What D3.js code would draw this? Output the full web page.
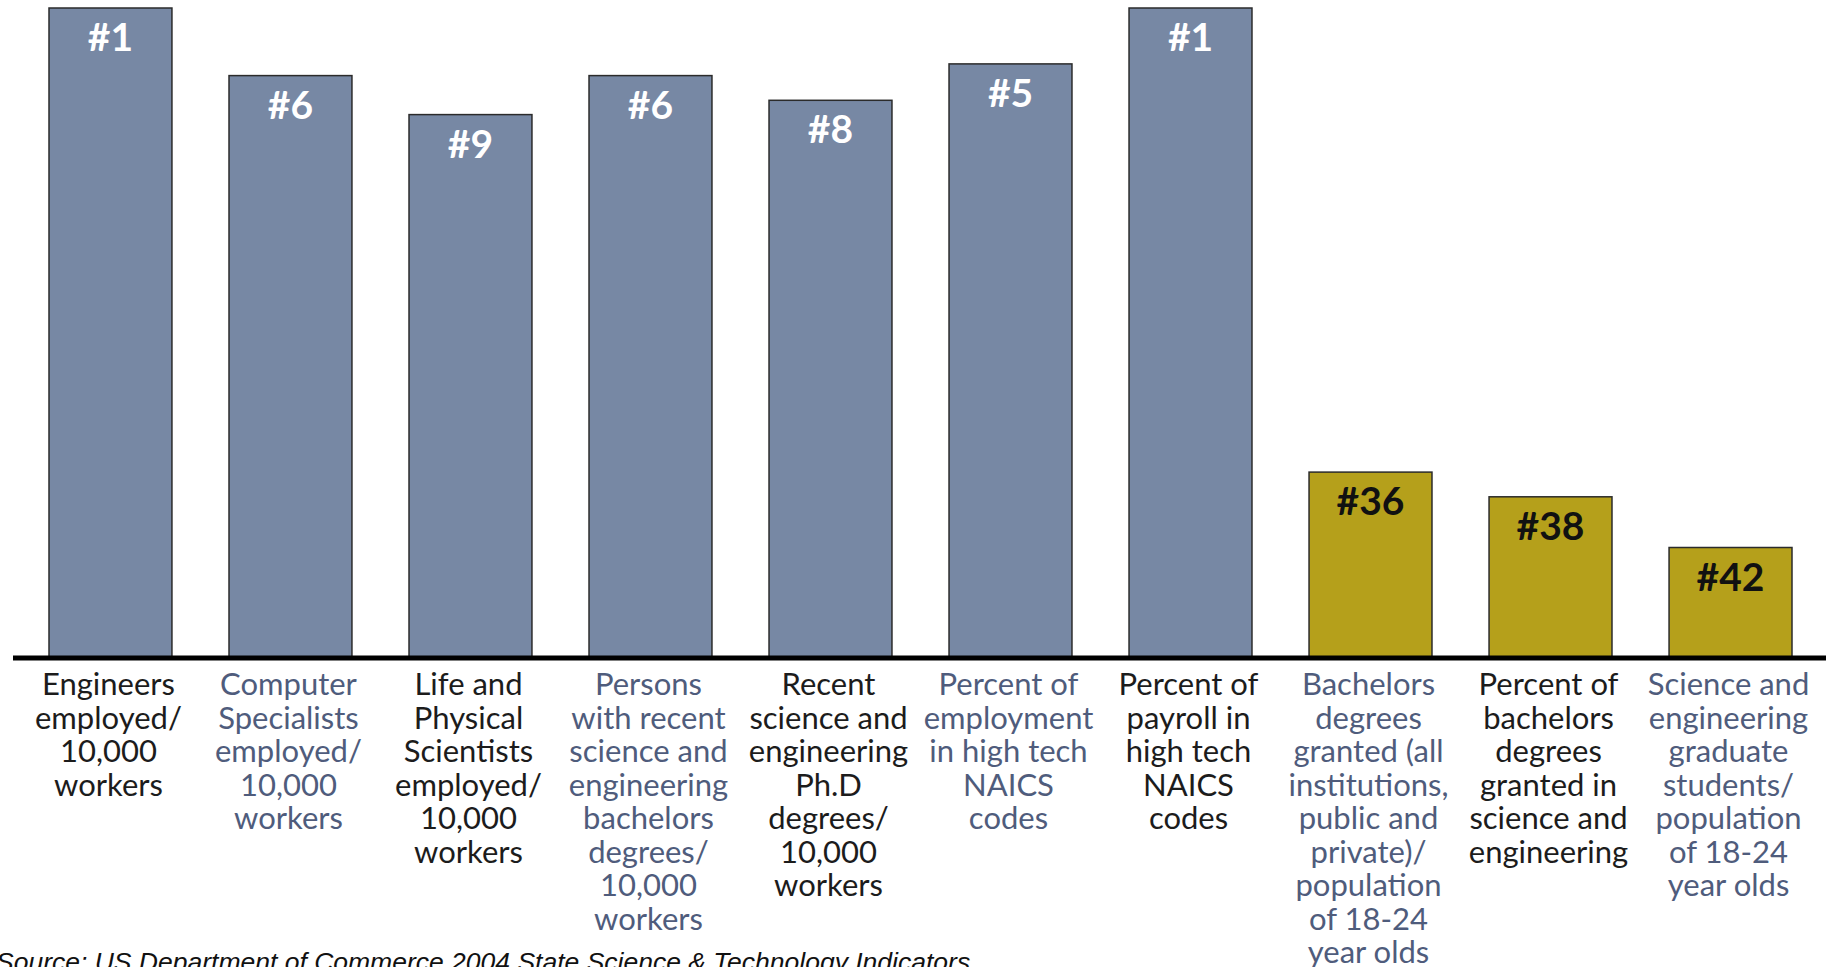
<!DOCTYPE html>
<html>
<head>
<meta charset="utf-8">
<script src="https://cdn.jsdelivr.net/npm/d3@7"></script>
<style>
  html, body { margin: 0; padding: 0; background: #ffffff; overflow: hidden; }
  svg { display: block; }
</style>
</head>
<body>
<svg id="chart" width="1833" height="967"></svg>
<script>
// ---- Data ----
const categories = [
  "Engineers employed/10,000 workers",
  "Computer Specialists employed/10,000 workers",
  "Life and Physical Scientists employed/10,000 workers",
  "Persons with recent science and engineering bachelors degrees/10,000 workers",
  "Recent science and engineering Ph.D degrees/10,000 workers",
  "Percent of employment in high tech NAICS codes",
  "Percent of payroll in high tech NAICS codes",
  "Bachelors degrees granted (all institutions, public and private)/population of 18-24 year olds",
  "Percent of bachelors degrees granted in science and engineering",
  "Science and engineering graduate students/population of 18-24 year olds"
];
const categoryLines = [
  ["Engineers", "employed/", "10,000", "workers"],
  ["Computer", "Specialists", "employed/", "10,000", "workers"],
  ["Life and", "Physical", "Scientists", "employed/", "10,000", "workers"],
  ["Persons", "with recent", "science and", "engineering", "bachelors", "degrees/", "10,000", "workers"],
  ["Recent", "science and", "engineering", "Ph.D", "degrees/", "10,000", "workers"],
  ["Percent of", "employment", "in high tech", "NAICS", "codes"],
  ["Percent of", "payroll in", "high tech", "NAICS", "codes"],
  ["Bachelors", "degrees", "granted (all", "institutions,", "public and", "private)/", "population", "of 18-24", "year olds"],
  ["Percent of", "bachelors", "degrees", "granted in", "science and", "engineering"],
  ["Science and", "engineering", "graduate", "students/", "population", "of 18-24", "year olds"]
];
// bar heights (relative score)
const values = [50, 44.8, 41.8, 44.8, 42.9, 45.7, 50, 14.3, 12.4, 8.5];
const rankLabels = ["#1", "#6", "#9", "#6", "#8", "#5", "#1", "#36", "#38", "#42"];
const groups = ["top", "top", "top", "top", "top", "top", "top", "low", "low", "low"];
const sourceText = "Source:  US Department of Commerce 2004 State Science & Technology Indicators";

// ---- Layout / styles ----
const svg = d3.select("#chart");
const baseY = 658;
const x = d3.scaleBand().domain(categories).range([49, 1792]).paddingInner(0.317).paddingOuter(0);
const y = d3.scaleLinear().domain([0, 50]).range([baseY, 8]);
const fillColor = d3.scaleOrdinal().domain(["top", "low"]).range(["#7788a4", "#b5a01b"]);
const rankColor = d3.scaleOrdinal().domain(["top", "low"]).range(["#ffffff", "#111111"]);
const labelColors = ["#1c1c1c", "#4f5c7c"];

const data = categories.map((c, i) => ({ c, v: values[i], rank: rankLabels[i], g: groups[i], lines: categoryLines[i], i }));

// bars
svg.append("g").selectAll("rect").data(data).join("rect")
  .attr("x", d => x(d.c))
  .attr("y", d => y(d.v))
  .attr("width", x.bandwidth())
  .attr("height", d => baseY - y(d.v))
  .attr("fill", d => fillColor(d.g))
  .attr("stroke", "#2b2b2b")
  .attr("stroke-width", 1.5);

// rank labels
svg.append("g").selectAll("text").data(data).join("text")
  .attr("x", d => x(d.c) + x.bandwidth() / 2)
  .attr("y", d => y(d.v) + 43)
  .attr("text-anchor", "middle")
  .attr("font-family", "Lato, 'Noto Sans', sans-serif")
  .attr("font-weight", 700)
  .attr("font-size", 39)
  .attr("fill", d => rankColor(d.g))
  .text(d => d.rank);

// axis line (baseline)
const axis = d3.axisBottom(x).tickSize(0).tickFormat(() => "");
const axisG = svg.append("g").attr("transform", `translate(0,${baseY})`).call(axis);
axisG.select(".domain").remove();
svg.append("line")
  .attr("x1", 13).attr("x2", 1826)
  .attr("y1", baseY).attr("y2", baseY)
  .attr("stroke", "#000").attr("stroke-width", 5);

// category labels
const lab = svg.append("g").selectAll("text").data(data).join("text")
  .attr("text-anchor", "middle")
  .attr("font-family", "Lato, 'Noto Sans', sans-serif")
  .attr("font-size", 31)
  .attr("fill", d => labelColors[d.i % 2]);
lab.selectAll("tspan").data(d => d.lines.map(l => ({ l, d }))).join("tspan")
  .attr("x", t => x(t.d.c) + x.bandwidth() / 2 - 2)
  .attr("y", (t, j) => 695 + j * 33.5)
  .text(t => t.l);

// source
svg.append("text")
  .attr("x", -4).attr("y", 971)
  .attr("font-family", "'Liberation Sans', Arial, sans-serif")
  .attr("font-style", "italic")
  .attr("font-size", 26.5)
  .attr("fill", "#111")
  .text(sourceText);
</script>
</body>
</html>
